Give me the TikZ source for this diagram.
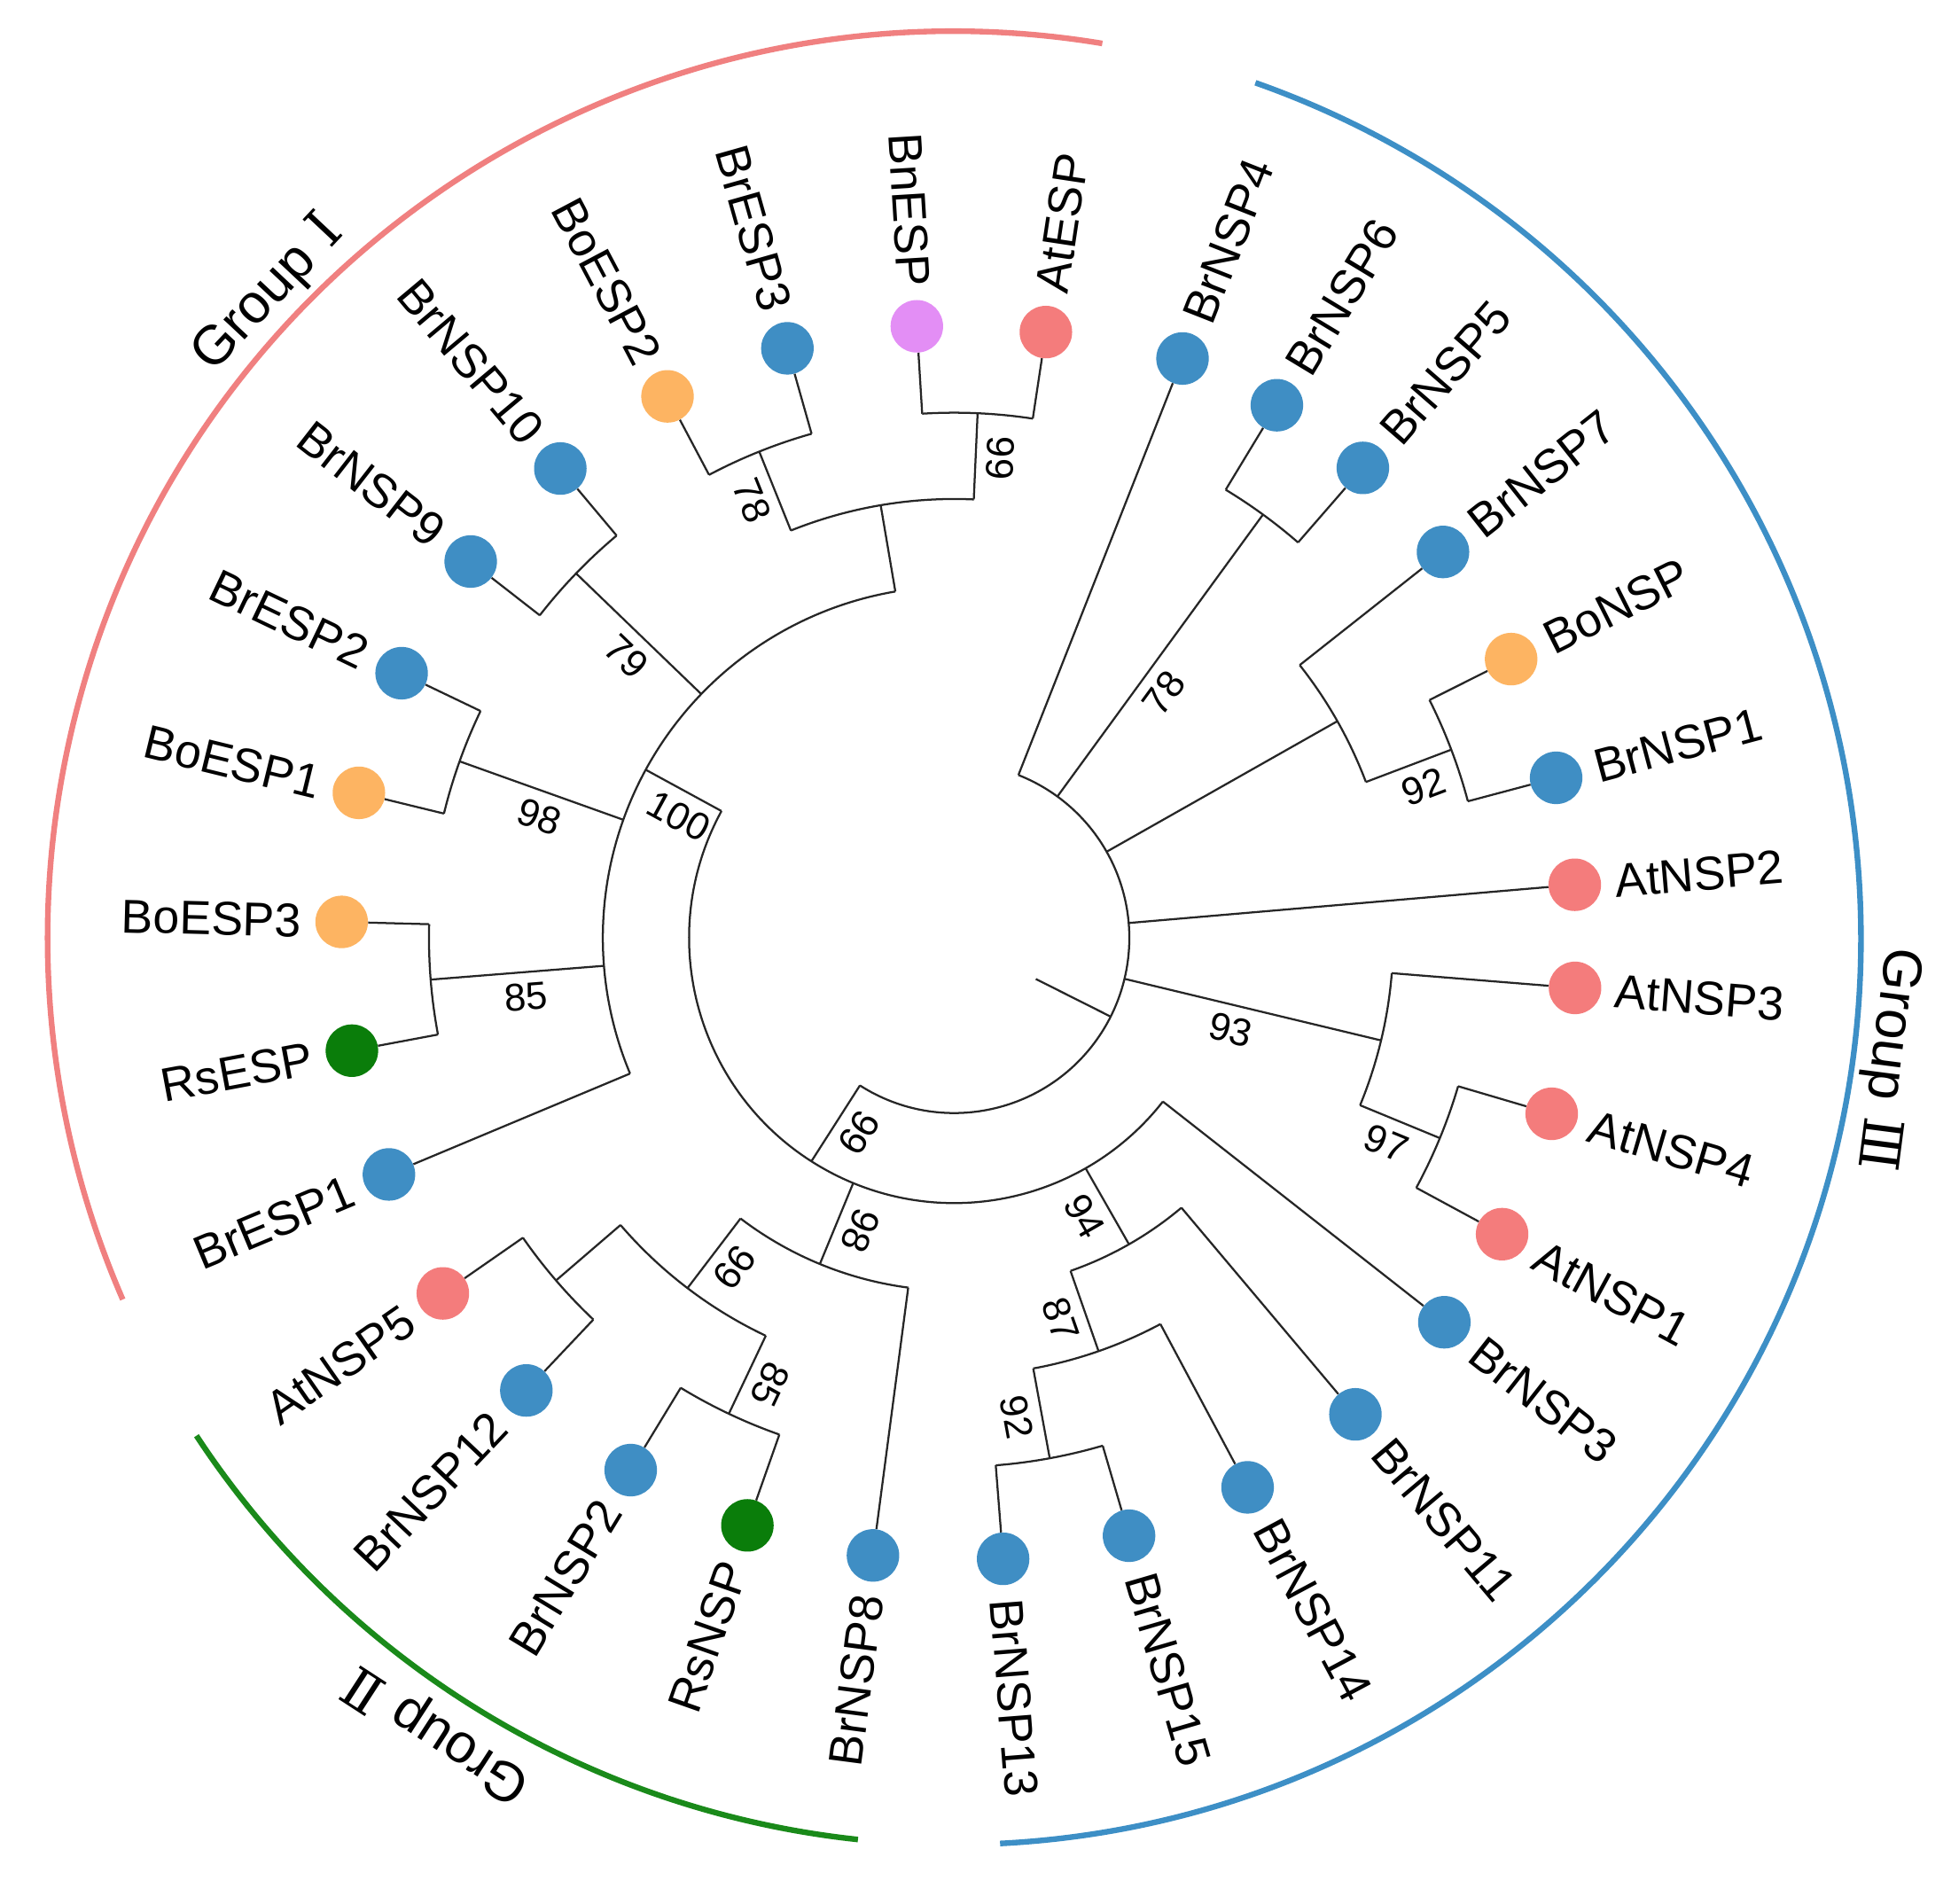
\documentclass[tikz,border=0pt]{standalone}
\usepackage{fontspec}
\setmainfont{Liberation Sans}
\newfontfamily\numfont{DejaVu Serif}
\definecolor{cb}{RGB}{63,142,196}
\definecolor{co}{RGB}{253,180,98}
\definecolor{cr}{RGB}{244,124,124}
\definecolor{cv}{RGB}{227,142,245}
\definecolor{cg}{RGB}{10,125,10}
\definecolor{gI}{RGB}{240,128,128}
\definecolor{gII}{RGB}{26,138,26}
\definecolor{gIII}{RGB}{61,143,198}
\newcommand\tArc[3]{\draw[tree] (#1:#3pt) arc[start angle=#1,end angle=#2,radius=#3pt];}
\newcommand\tRad[3]{\draw[tree] (#1:#2pt) -- (#1:#3pt);}
\newcommand\leafR[6]{%
  \node[dot,fill=#4] (#1) at (#2:#3pt) {};
  \draw[tree] (#2:#6pt) -- (#1);
  \pgfmathsetmacro\tmpr{#3+32}%
  \node[lab,anchor=west,rotate=#2] (#1-t) at (#2:\tmpr pt) {#5};}
\newcommand\leafL[6]{%
  \node[dot,fill=#4] (#1) at (#2:#3pt) {};
  \draw[tree] (#2:#6pt) -- (#1);
  \pgfmathsetmacro\tmpr{#3+32}%
  \pgfmathsetmacro\tmpa{#2-180}%
  \node[lab,anchor=east,rotate=\tmpa] (#1-t) at (#2:\tmpr pt) {#5};}
\newcommand\bsv[6]{\node[bsl,rotate=#5] (#6) at ([shift={(#2:#3pt)}]#4:20pt) {#1};}
\begin{document}
\begin{tikzpicture}[x=1pt,y=1pt,
  tree/.style={line width=1.6pt,black!85},
  dot/.style={circle,minimum size=42pt,inner sep=0pt,draw=none},
  lab/.style={font=\fontsize{38}{40}\selectfont,inner sep=0pt},
  bsl/.style={font=\fontsize{31}{33}\selectfont,inner sep=0pt},
  grp/.style={line width=4.5pt},
  glab/.style={font=\fontsize{44}{46}\selectfont,inner sep=0pt}]
\useasboundingbox[fill=white] (0,0) rectangle (1560,1522);
\begin{scope}[shift={(763,772)}]
% root and inner arcs
\tRad{-26.7}{73}{140}
\tArc{-122.6}{68.5}{140}
\tRad{53.9}{140}{419} \tArc{49.0}{58.8}{419}
\tRad{29.5}{140}{352} \tArc{20.75}{38.3}{352}
\tRad{20.75}{352}{425} \tArc{14.9}{26.6}{425}
\tRad{-13.5}{140}{351} \tArc{-22.4}{-4.6}{351}
\tRad{-22.4}{351}{420} \tArc{-28.4}{-16.4}{420}
\tRad{-122.6}{140}{212}
\tArc{151.4}{321.9}{212}
\tRad{-60.3}{212}{282} \tArc{-70.75}{-49.9}{282}
\tRad{-70.75}{282}{350} \tArc{-79.6}{-61.9}{350}
\tRad{-79.6}{350}{423} \tArc{-85.5}{-73.7}{423}
\tRad{-112.4}{212}{282} \tArc{-127.3}{-97.5}{282}
\tRad{-127.3}{282}{352} \tArc{-139.3}{-115.35}{352}
\tRad{-139.3}{352}{420} \tArc{-145.2}{-133.4}{420}
\tRad{-115.35}{352}{421} \tArc{-121.3}{-109.4}{421}
\tRad{151.4}{212}{281} \tArc{99.65}{202.7}{281}
\tRad{184.55}{281}{420} \tArc{178.5}{190.6}{420}
\tRad{160.35}{281}{420} \tArc{154.4}{166.3}{420}
\tRad{136.05}{281}{420} \tArc{130}{142.1}{420}
\tRad{99.65}{281}{351} \tArc{87.45}{111.85}{351}
\tRad{111.85}{351}{419} \tArc{105.8}{117.9}{419}
\tRad{87.45}{351}{420} \tArc{81.4}{93.5}{420}
% leaves group I
\leafL{BrESP1}{202.7}{490}{cb}{BrESP1}{281}
\leafL{RsESP}{190.6}{490}{cg}{RsESP}{420}
\leafL{BoESP3}{178.5}{490}{co}{BoESP3}{420}
\leafL{BoESP1}{166.3}{490}{co}{BoESP1}{420}
\leafL{BrESP2}{154.4}{490}{cb}{BrESP2}{420}
\leafL{BrNSP9}{142.1}{490}{cb}{BrNSP9}{420}
\leafL{BrNSP10}{130.0}{490}{cb}{BrNSP10}{420}
\leafL{BoESP2}{117.9}{490}{co}{BoESP2}{419}
\leafL{BrESP3}{105.8}{490}{cb}{BrESP3}{419}
\leafL{BnESP}{93.5}{490}{cv}{BnESP}{420}
\leafR{AtESP}{81.4}{490}{cr}{AtESP}{420}
% group III
\leafR{BrNSP4}{68.5}{498}{cb}{BrNSP4}{140}
\leafR{BrNSP6}{58.8}{498}{cb}{BrNSP6}{419}
\leafR{BrNSP5}{49.0}{498}{cb}{BrNSP5}{419}
\leafR{BrNSP7}{38.3}{498}{cb}{BrNSP7}{352}
\leafR{BoNSP}{26.6}{498}{co}{BoNSP}{425}
\leafR{BrNSP1}{14.9}{498}{cb}{BrNSP1}{425}
\leafR{AtNSP2}{4.9}{498}{cr}{AtNSP2}{140}
\leafR{AtNSP3}{-4.6}{498}{cr}{AtNSP3}{351}
\leafR{AtNSP4}{-16.4}{498}{cr}{AtNSP4}{420}
\leafR{AtNSP1}{-28.4}{498}{cr}{AtNSP1}{420}
\leafR{BrNSP3}{-38.1}{498}{cb}{BrNSP3}{212}
\leafR{BrNSP11}{-49.9}{498}{cb}{BrNSP11}{282}
\leafR{BrNSP14}{-61.9}{498}{cb}{BrNSP14}{350}
\leafR{BrNSP15}{-73.7}{498}{cb}{BrNSP15}{423}
\leafR{BrNSP13}{-85.5}{498}{cb}{BrNSP13}{423}
% group II
\leafL{BrNSP8}{-97.5}{498}{cb}{BrNSP8}{282}
\leafL{RsNSP}{-109.4}{498}{cg}{RsNSP}{421}
\leafL{BrNSP2}{-121.3}{498}{cb}{BrNSP2}{421}
\leafL{BrNSP12}{-133.4}{498}{cb}{BrNSP12}{420}
\leafL{AtNSP5}{-145.2}{498}{cr}{AtNSP5}{420}
% bootstrap values
\bsv{79}{136.05}{345}{226.05}{-43.95}{b1}
\bsv{98}{160.35}{345}{250.35}{-19.65}{b2}
\bsv{85}{184.55}{345}{274.55}{4.55}{b3}
\bsv{100}{151.4}{240}{241.4}{-28.6}{b4}
\bsv{78}{111.85}{385}{201.85}{-68.15}{b5}
\bsv{99}{87.45}{385}{-2.55}{-92.55}{b6}
\bsv{78}{53.9}{257}{-36.1}{53.9}{b7}
\bsv{92}{20.75}{394}{-69.25}{20.75}{b8}
\bsv{93}{-13.5}{232}{-103.5}{-13.5}{b9}
\bsv{97}{-22.4}{382}{-112.4}{-22.4}{b10}
\bsv{99}{-122.6}{172}{-32.6}{-122.6}{b11}
\bsv{98}{-112.4}{245}{-22.4}{-112.4}{b12}
\bsv{94}{-60.3}{245}{-150.3}{-60.3}{b13}
\bsv{87}{-70.75}{316}{-160.75}{-70.75}{b14}
\bsv{92}{-79.6}{386}{-169.6}{-79.6}{b15}
\bsv{99}{-127.3}{316}{-37.3}{-127.3}{b16}
\bsv{85}{-115.35}{386}{-25.35}{-115.35}{b17}
% group arcs
\draw[grp,gI] (80.6:725pt) arc[start angle=80.6,end angle=203.5,radius=725pt];
\draw[grp,gII] (213.3:725pt) arc[start angle=213.3,end angle=263.9,radius=725pt];
\draw[grp,gIII] (-87.1:725pt) arc[start angle=-87.1,end angle=70.6,radius=725pt];
\node[glab,rotate=46.8] (gl1) at (136.8:752pt) {Group\hspace{14pt}{\numfont Ⅰ}};
\node[glab,rotate=147] (gl2) at (-123:758pt) {Group\hspace{14pt}{\numfont Ⅱ}};
\node[glab,rotate=-97.4] (gl3) at (-7.4:752pt) {Group\hspace{14pt}{\numfont Ⅲ}};
\end{scope}
\end{tikzpicture}
\end{document}
